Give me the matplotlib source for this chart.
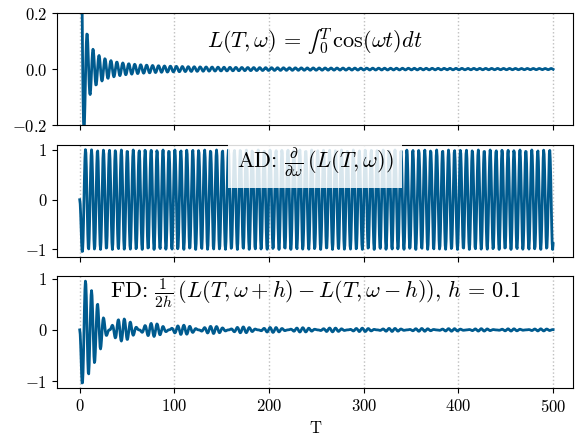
import numpy as np
import matplotlib.pyplot as plt

plt.rcParams['font.family'] = 'serif'
plt.rcParams['font.serif'] = ['cmr10']
plt.rcParams['mathtext.fontset'] = 'cm'
plt.rcParams['axes.formatter.use_mathtext'] = True
plt.rcParams['font.size'] = 12

# parameters of the curves
t_start, t_end, n_samples = 0, 500, 1001
omega = 1.0
h = 0.1
line_color = '#005b8f'

T = np.linspace(t_start, t_end, n_samples)


def L(T, w):
    # normalised integral sin(wT)/(wT), equal to 1 at T = 0
    return np.sinc(w * T / np.pi)


def dL_dw(T, w):
    safe = np.where(T > 0, T, 1.0)
    d = np.cos(w * safe) / w - np.sin(w * safe) / (w ** 2 * safe)
    return np.where(T > 0, d, 0.0)


L_vals = L(T, omega)
AD_vals = dL_dw(T, omega)
FD_vals = (L(T, omega + h) - L(T, omega - h)) / (2 * h)

labels = [r'$L(T,\omega)\,=\,∫_0^T\,\cos(\omega t) dt$',
          r'AD: $\frac{\partial}{\partial \omega}\,\left(L(T,\omega)\right)$',
          r'FD: $\frac{1}{2h}\,\left(L(T,\omega+h) - L(T,\omega-h)\right),\,h\,=\,0.1$']
label_y = [0.74, 0.838, 0.838]
boxed = [False, True, False]

fig, axes = plt.subplots(3, 1, sharex=True, figsize=(5.76, 4.36), dpi=100)
fig.subplots_adjust(left=57 / 576, right=573 / 576, top=0.970, bottom=0.110,
                    hspace=0.174)

for ax, y, lab, ly, bx in zip(axes, [L_vals, AD_vals, FD_vals], labels,
                              label_y, boxed):
    ax.plot(T, y, color=line_color, lw=2)
    ax.grid(True, axis='x', ls=':', color='0.75', lw=1)
    txt = ax.text(0.5, ly, lab, transform=ax.transAxes, ha='center',
                  va='center', fontsize=16)
    if bx:
        txt.set_bbox(dict(boxstyle='square,pad=0.4', facecolor='white',
                          alpha=0.85, edgecolor='none'))

axes[0].set_xlim(-24, 521)
axes[0].set_ylim(-0.2, 0.2)
axes[0].set_yticks([-0.2, 0.0, 0.2])
axes[2].set_xlabel('T')

fig.savefig('out.png')
